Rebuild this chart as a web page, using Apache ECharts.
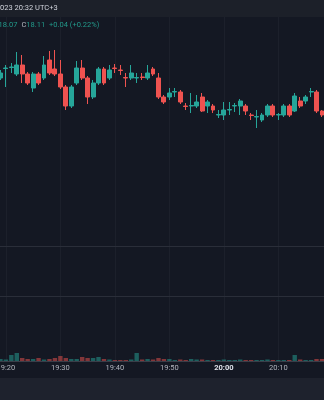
<!DOCTYPE html>
<html><head><meta charset="utf-8">
<script src="https://cdn.jsdelivr.net/npm/echarts@6/dist/echarts.min.js"></script>
<style>html,body{margin:0;padding:0;background:#141823;}#c{width:324px;height:400px;}</style>
</head><body><div id="c"></div>
<script>
const categories = ['19:19','19:20','19:21','19:22','19:23','19:24','19:25','19:26','19:27','19:28','19:29',
'19:30','19:31','19:32','19:33','19:34','19:35','19:36','19:37','19:38','19:39',
'19:40','19:41','19:42','19:43','19:44','19:45','19:46','19:47','19:48','19:49',
'19:50','19:51','19:52','19:53','19:54','19:55','19:56','19:57','19:58','19:59',
'20:00','20:01','20:02','20:03','20:04','20:05','20:06','20:07','20:08','20:09',
'20:10','20:11','20:12','20:13','20:14','20:15','20:16','20:17','20:18'];
const opens  = [18.264,18.283,18.285,18.272,18.290,18.272,18.244,18.272,18.264,18.300,18.282,18.272,18.246,18.208,18.254,18.284,18.264,18.226,18.254,18.282,
18.264,18.284,18.280,18.265,18.264,18.264,18.266,18.264,18.282,18.264,18.226,18.226,18.236,18.236,18.208,18.208,18.208,18.226,18.208,18.208,
18.190,18.190,18.200,18.208,18.208,18.208,18.190,18.186,18.180,18.190,18.208,18.190,18.190,18.208,18.198,18.218,18.218,18.236,18.236,18.198];
const closes = [18.274,18.284,18.286,18.290,18.272,18.254,18.272,18.254,18.290,18.274,18.272,18.246,18.208,18.246,18.284,18.264,18.226,18.254,18.282,18.254,
18.280,18.283,18.279,18.264,18.274,18.265,18.265,18.274,18.272,18.226,18.216,18.234,18.237,18.216,18.207,18.209,18.216,18.198,18.216,18.200,
18.191,18.200,18.201,18.209,18.218,18.198,18.189,18.187,18.190,18.208,18.190,18.191,18.208,18.190,18.228,18.208,18.226,18.237,18.198,18.190];
const lows   = [18.260,18.246,18.274,18.268,18.254,18.250,18.236,18.250,18.260,18.270,18.268,18.242,18.200,18.204,18.250,18.260,18.212,18.222,18.250,18.250,
18.260,18.274,18.270,18.246,18.260,18.254,18.260,18.260,18.268,18.222,18.212,18.220,18.226,18.212,18.200,18.194,18.204,18.196,18.194,18.194,
18.184,18.180,18.190,18.196,18.190,18.190,18.180,18.164,18.176,18.186,18.186,18.180,18.186,18.186,18.196,18.204,18.212,18.226,18.194,18.186];
const highs  = [18.280,18.290,18.294,18.316,18.310,18.276,18.276,18.276,18.308,18.318,18.320,18.300,18.250,18.250,18.298,18.300,18.268,18.260,18.286,18.286,
18.290,18.292,18.290,18.274,18.290,18.274,18.274,18.290,18.286,18.274,18.230,18.244,18.244,18.240,18.214,18.234,18.230,18.234,18.220,18.212,
18.200,18.216,18.216,18.214,18.222,18.212,18.194,18.200,18.194,18.212,18.212,18.194,18.212,18.212,18.234,18.226,18.230,18.244,18.240,18.200];
const volumes = [2000,1500,6000,8000,3000,2000,2000,3000,1500,2000,3000,5000,3000,2000,2000,4000,3000,3000,4000,2000,
1500,1000,1000,1000,1500,8000,1500,2000,1500,3000,2000,2000,1000,1500,1000,2000,1500,1500,1000,1000,
1000,1500,1000,1000,1500,1000,1000,1000,1000,1500,1000,1000,1000,1000,6000,1500,1000,1000,2000,2000];
const timeTicks = ['19:20','19:30','19:40','19:50','20:00','20:10','20:20'];
const headerText = '023 20:32 UTC+3';
const ohlcParts = [['g','L'],['v','18.07'],['g','C'],['v','18.11'],['v','+0.04 (+0.22%)']];

const UP = '#26a69a', DOWN = '#ef5350';
const candleData = categories.map((c, i) => [opens[i], closes[i], lows[i], highs[i]]);
const volData = volumes.map((v, i) => ({
  value: v,
  itemStyle: { color: closes[i] >= opens[i] ? 'rgba(38,166,154,0.5)' : 'rgba(239,83,80,0.5)' }
}));
const isTick = (idx, val) => timeTicks.indexOf(val) >= 0;
const gridX = { left: -2.3, width: 327, containLabel: false, outerBoundsMode: 'none' };
const splitLine = { show: true, interval: isTick, alignWithLabel: true, lineStyle: { color: '#1c202b', width: 1 } };
function xAx(gi, lineColor, labels) {
  return {
    type: 'category', gridIndex: gi, data: categories, boundaryGap: true,
    axisLine: { show: true, onZero: false, lineStyle: { color: lineColor, width: 1 } },
    axisTick: { show: false },
    splitLine: splitLine,
    axisLabel: labels ? {
      show: true, interval: isTick, margin: 3.5, fontSize: 7.5, color: '#b2b5be', fontFamily: 'Roboto',
      hideOverlap: false,
      formatter: v => v.endsWith(':00') ? '{b|' + v + '}' : v,
      rich: { b: { fontWeight: 'bold', color: '#e0e3eb', fontSize: 7.5, fontFamily: 'Roboto' } }
    } : { show: false }
  };
}
const chart = echarts.init(document.getElementById('c'));
chart.setOption({
  animation: false,
  backgroundColor: '#141823',
  grid: [
    Object.assign({ top: 17, height: 229 }, gridX),
    Object.assign({ top: 246, height: 50 }, gridX),
    Object.assign({ top: 296, height: 65 }, gridX)
  ],
  xAxis: [xAx(0, '#2a2e39', false), xAx(1, '#2a2e39', false), xAx(2, '#3a3e49', true)],
  yAxis: [
    { type: 'value', gridIndex: 0, min: 17.928, max: 18.386, show: false, splitLine: { show: false } },
    { type: 'value', gridIndex: 1, min: 0, max: 1, show: false, splitLine: { show: false } },
    { type: 'value', gridIndex: 2, min: 0, max: 65000, show: false, splitLine: { show: false } }
  ],
  series: [
    { type: 'candlestick', xAxisIndex: 0, yAxisIndex: 0, data: candleData, barWidth: 4.4,
      itemStyle: { color: UP, color0: DOWN, borderColor: UP, borderColor0: DOWN, borderWidth: 1 } },
    { type: 'bar', xAxisIndex: 2, yAxisIndex: 2, data: volData, barWidth: 4.4 }
  ],
  graphic: [
    { type: 'rect', shape: { x: 0, y: 0, width: 324, height: 17 }, style: { fill: '#1c2029' }, z: 1 },
    { type: 'rect', shape: { x: 0, y: 378, width: 324, height: 22 }, style: { fill: '#1e222d' }, z: 1 },
    { type: 'text', x: 0, y: 4.5, z: 2, style: { text: headerText, fill: '#d1d4dc', font: '7.5px Roboto' } },
    { type: 'text', x: -5.5, y: 21, z: 2, style: {
        text: ohlcParts.map(p => '{' + p[0] + '|' + p[1] + '}').join(''),
        font: '7.5px Roboto',
        rich: {
          g: { fill: '#b2b5be', font: '7.5px Roboto', padding: [0, 0, 0, 0] },
          v: { fill: '#22998a', font: '7.5px Roboto', padding: [0, 4, 0, 0] }
        }
    } }
  ]
});
</script></body></html>
